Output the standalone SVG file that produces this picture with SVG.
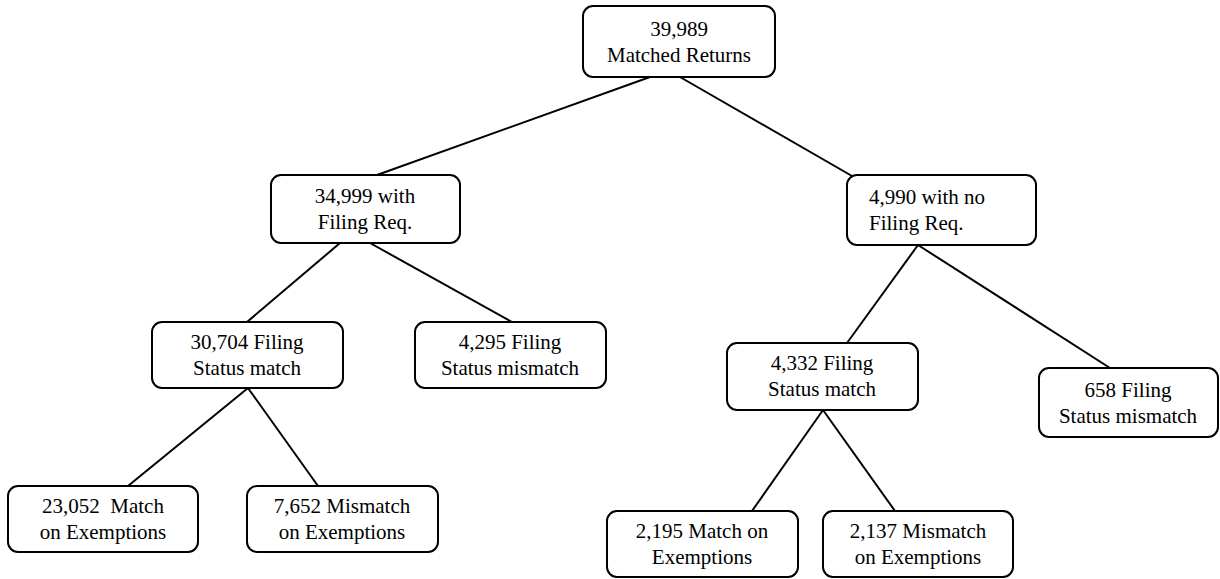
<svg xmlns="http://www.w3.org/2000/svg" width="1220" height="579" viewBox="0 0 1220 579">
<rect width="1220" height="579" fill="#fff"/>
<g id="connectors" stroke="#000" stroke-width="2">
<line x1="650" y1="77" x2="377" y2="175"/>
<line x1="680" y1="77" x2="852" y2="176"/>
<line x1="340" y1="243" x2="247" y2="322"/>
<line x1="370" y1="243" x2="512" y2="322"/>
<line x1="918" y1="245" x2="847" y2="343"/>
<line x1="918" y1="245" x2="1110" y2="368"/>
<line x1="248" y1="388" x2="128" y2="486"/>
<line x1="248" y1="388" x2="318" y2="486"/>
<line x1="823" y1="410" x2="752" y2="511"/>
<line x1="823" y1="410" x2="895" y2="511"/>
</g>
<g id="n1"><rect fill="#fff" stroke="#000" stroke-width="2" x="583" y="6" width="192" height="71" rx="10"/><text font-family="Times New Roman, Liberation Serif, serif" font-size="21" text-anchor="middle" x="679" y="36">39,989</text><text font-family="Times New Roman, Liberation Serif, serif" font-size="21" text-anchor="middle" x="679" y="62">Matched Returns</text></g>
<g id="n2"><rect fill="#fff" stroke="#000" stroke-width="2" x="271" y="175" width="189" height="68" rx="10"/><text font-family="Times New Roman, Liberation Serif, serif" font-size="21" text-anchor="middle" x="365" y="203">34,999 with</text><text font-family="Times New Roman, Liberation Serif, serif" font-size="21" text-anchor="middle" x="365" y="229">Filing Req.</text></g>
<g id="n3"><rect fill="#fff" stroke="#000" stroke-width="2" x="847" y="175" width="189" height="70" rx="10"/><text font-family="Times New Roman, Liberation Serif, serif" font-size="21" x="869" y="204">4,990 with no</text><text font-family="Times New Roman, Liberation Serif, serif" font-size="21" x="869" y="230">Filing Req.</text></g>
<g id="n4"><rect fill="#fff" stroke="#000" stroke-width="2" x="152" y="322" width="191" height="66" rx="10"/><text font-family="Times New Roman, Liberation Serif, serif" font-size="21" text-anchor="middle" x="247" y="349">30,704 Filing</text><text font-family="Times New Roman, Liberation Serif, serif" font-size="21" text-anchor="middle" x="247" y="375">Status match</text></g>
<g id="n5"><rect fill="#fff" stroke="#000" stroke-width="2" x="415" y="322" width="191" height="66" rx="10"/><text font-family="Times New Roman, Liberation Serif, serif" font-size="21" text-anchor="middle" x="510" y="349">4,295 Filing</text><text font-family="Times New Roman, Liberation Serif, serif" font-size="21" text-anchor="middle" x="510" y="375">Status mismatch</text></g>
<g id="n6"><rect fill="#fff" stroke="#000" stroke-width="2" x="727" y="343" width="191" height="67" rx="10"/><text font-family="Times New Roman, Liberation Serif, serif" font-size="21" text-anchor="middle" x="822" y="370">4,332 Filing</text><text font-family="Times New Roman, Liberation Serif, serif" font-size="21" text-anchor="middle" x="822" y="396">Status match</text></g>
<g id="n7"><rect fill="#fff" stroke="#000" stroke-width="2" x="1039" y="368" width="179" height="69" rx="10"/><text font-family="Times New Roman, Liberation Serif, serif" font-size="21" text-anchor="middle" x="1128" y="397">658 Filing</text><text font-family="Times New Roman, Liberation Serif, serif" font-size="21" text-anchor="middle" x="1128" y="423">Status mismatch</text></g>
<g id="n8"><rect fill="#fff" stroke="#000" stroke-width="2" x="8" y="486" width="190" height="66" rx="10"/><text font-family="Times New Roman, Liberation Serif, serif" font-size="21" text-anchor="middle" x="103" y="513">23,052&#160; Match</text><text font-family="Times New Roman, Liberation Serif, serif" font-size="21" text-anchor="middle" x="103" y="539">on Exemptions</text></g>
<g id="n9"><rect fill="#fff" stroke="#000" stroke-width="2" x="247" y="486" width="191" height="66" rx="10"/><text font-family="Times New Roman, Liberation Serif, serif" font-size="21" text-anchor="middle" x="342" y="513">7,652 Mismatch</text><text font-family="Times New Roman, Liberation Serif, serif" font-size="21" text-anchor="middle" x="342" y="539">on Exemptions</text></g>
<g id="n10"><rect fill="#fff" stroke="#000" stroke-width="2" x="607" y="511" width="191" height="66" rx="10"/><text font-family="Times New Roman, Liberation Serif, serif" font-size="21" text-anchor="middle" x="702" y="538">2,195 Match on</text><text font-family="Times New Roman, Liberation Serif, serif" font-size="21" text-anchor="middle" x="702" y="564">Exemptions</text></g>
<g id="n11"><rect fill="#fff" stroke="#000" stroke-width="2" x="823" y="511" width="190" height="66" rx="10"/><text font-family="Times New Roman, Liberation Serif, serif" font-size="21" text-anchor="middle" x="918" y="538">2,137 Mismatch</text><text font-family="Times New Roman, Liberation Serif, serif" font-size="21" text-anchor="middle" x="918" y="564">on Exemptions</text></g>
</svg>
